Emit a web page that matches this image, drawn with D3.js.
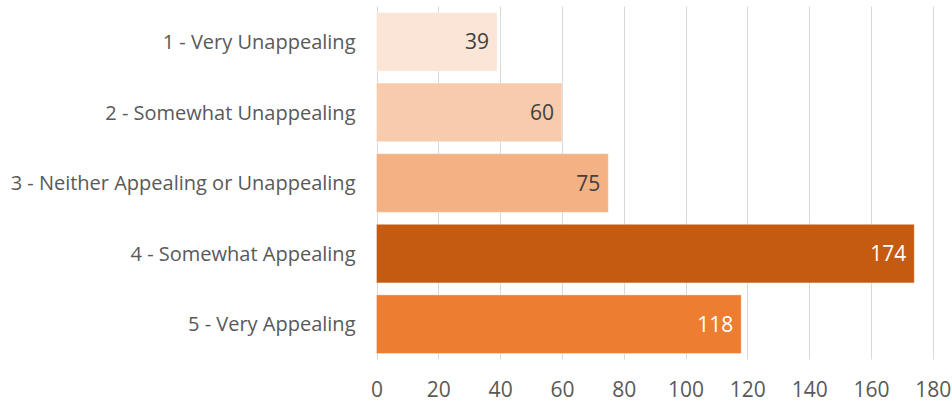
<!DOCTYPE html>
<html>
<head>
<meta charset="utf-8">
<script src="https://cdn.jsdelivr.net/npm/d3@7"></script>
<style>
  html, body { margin: 0; padding: 0; background: #fff; }
  svg { display: block; font-family: "Open Sans", "Noto Sans", sans-serif; }
</style>
</head>
<body>
<svg id="chart" width="952" height="405"></svg>
<script>
// Appeal ratings, responses per rating
const categories = [
  "1 - Very Unappealing",
  "2 - Somewhat Unappealing",
  "3 - Neither Appealing or Unappealing",
  "4 - Somewhat Appealing",
  "5 - Very Appealing"
];
const counts = [39, 60, 75, 174, 118];
const barColors = ["#FBE5D6", "#F8CBAD", "#F4B183", "#C55A11", "#ED7D31"];
const labelColors = ["#404040", "#404040", "#404040", "#FFFFFF", "#FFFFFF"];
const xTicks = [0, 20, 40, 60, 80, 100, 120, 140, 160, 180];

const rows = categories.map((c, i) => ({ cat: c, value: counts[i], fill: barColors[i], ink: labelColors[i] }));

const svg = d3.select("#chart");
const plotLeft = 376.5, plotRight = 932.8, plotTop = 6.5, plotBottom = 359.5;

const x = d3.scaleLinear().domain([0, 180]).range([plotLeft, plotRight]);
const y = d3.scaleBand().domain(categories).range([plotTop, plotBottom]).paddingInner(0.17).paddingOuter(0.085);

// vertical gridlines
svg.append("g")
  .selectAll("line")
  .data(xTicks)
  .join("line")
  .attr("x1", d => Math.round(x(d)) + 0.5)
  .attr("x2", d => Math.round(x(d)) + 0.5)
  .attr("y1", plotTop)
  .attr("y2", plotBottom)
  .attr("stroke", "#D9D9D9")
  .attr("stroke-width", 1);

// bars
svg.append("g")
  .selectAll("rect")
  .data(rows)
  .join("rect")
  .attr("x", x(0))
  .attr("y", d => y(d.cat))
  .attr("width", d => x(d.value) - x(0))
  .attr("height", y.bandwidth())
  .attr("fill", d => d.fill)
  .attr("stroke", "#FFFFFF")
  .attr("stroke-opacity", 0.35)
  .attr("stroke-width", 1);

// value labels inside bar ends
svg.append("g")
  .selectAll("text")
  .data(rows)
  .join("text")
  .attr("x", d => x(d.value) - 8)
  .attr("y", d => y(d.cat) + y.bandwidth() / 2)
  .attr("dy", "0.36em")
  .attr("text-anchor", "end")
  .attr("font-size", "21px")
  .attr("fill", d => d.ink)
  .text(d => d.value);

// category axis
const yAxis = d3.axisLeft(y).tickSize(0).tickPadding(21);
const gy = svg.append("g").attr("transform", `translate(${plotLeft},0)`).call(yAxis);
gy.select(".domain").remove();
gy.selectAll("text")
  .attr("font-size", "20px")
  .attr("dy", "0.36em")
  .attr("font-family", "'Open Sans', 'Noto Sans', sans-serif")
  .attr("fill", "#595959");

// value axis
const xAxis = d3.axisBottom(x).tickValues(xTicks).tickSize(0).tickPadding(28);
const gx = svg.append("g").attr("transform", `translate(0,${plotBottom - 5})`).call(xAxis);
gx.select(".domain").remove();
gx.selectAll("text")
  .attr("font-size", "21px")
  .attr("font-family", "'Open Sans', 'Noto Sans', sans-serif")
  .attr("fill", "#595959");
</script>
</body>
</html>
